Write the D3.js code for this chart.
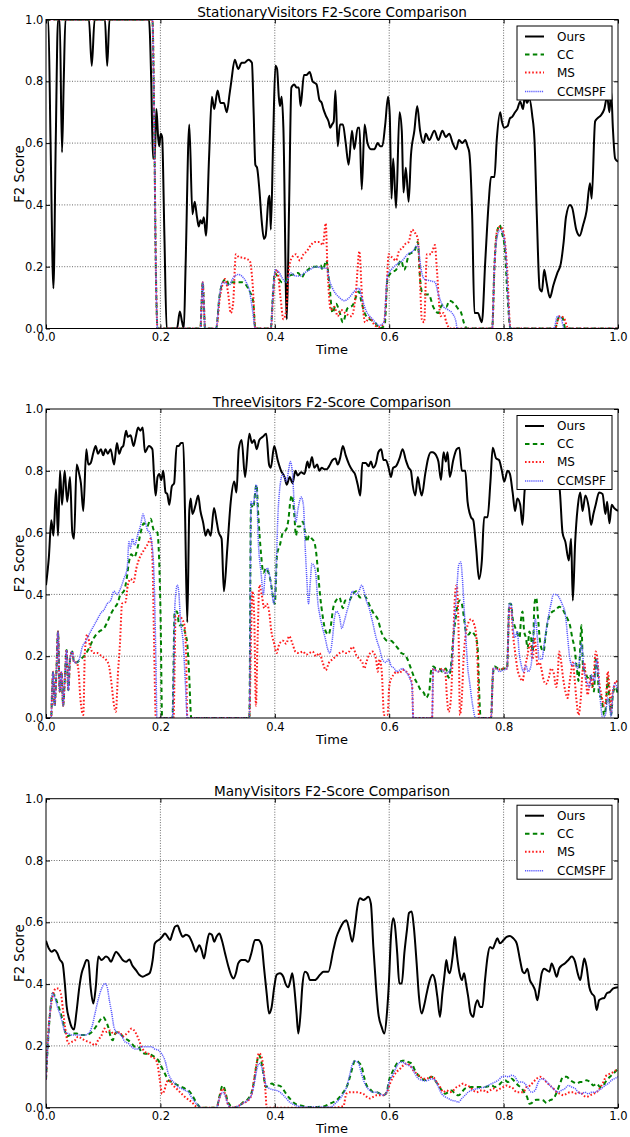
<!DOCTYPE html>
<html><head><meta charset="utf-8">
<script src="https://cdn.jsdelivr.net/npm/d3@7"></script>
<style>html,body{margin:0;padding:0;background:#fff;} svg{display:block;font-family:"DejaVu Sans",sans-serif;}</style>
</head><body><svg id="chart" width="630" height="1137"></svg>
<script>
// ---------- DATA ----------
const panelTitles = ["StationaryVisitors F2-Score Comparison","ThreeVisitors F2-Score Comparison","ManyVisitors F2-Score Comparison"];
const seriesNames = ["Ours","CC","MS","CCMSPF"];
const xTickValues = [0,0.2,0.4,0.6,0.8,1.0];
const yTickValues = [0,0.2,0.4,0.6,0.8,1.0];
const xLabel = "Time";
const yLabel = "F2 Score";

const stationaryOurs = [[0,1],[0.004,1],[0.008,0.6],[0.013,0.13],[0.017,0.6],[0.021,1],[0.024,1],[0.028,0.57],[0.031,0.8],[0.034,1],[0.075,1],[0.08,0.85],[0.085,1],[0.103,1],[0.107,0.85],[0.111,1],[0.18,1],[0.184,0.8],[0.187,0.55],[0.19,0.55],[0.193,0.71],[0.196,0.62],[0.198,0.59],[0.2005,0.63],[0.203,0.62],[0.207,0.3],[0.211,0],[0.229,0],[0.234,0.055],[0.238,0.02],[0.241,0],[0.244,0.2],[0.2505,0.66],[0.256,0.37],[0.26,0.41],[0.264,0.36],[0.267,0.33],[0.27,0.35],[0.273,0.34],[0.276,0.36],[0.2797,0.3],[0.285,0.55],[0.29,0.75],[0.294,0.71],[0.3,0.77],[0.305,0.73],[0.311,0.73],[0.316,0.7],[0.321,0.76],[0.324,0.8],[0.33,0.87],[0.336,0.84],[0.342,0.86],[0.347,0.86],[0.354,0.87],[0.36,0.86],[0.363,0.7],[0.366,0.53],[0.369,0.52],[0.373,0.45],[0.377,0.35],[0.381,0.29],[0.384,0.3],[0.389,0.42],[0.391,0.43],[0.393,0.32],[0.397,0.6],[0.401,0.85],[0.404,0.84],[0.407,0.75],[0.409,0.72],[0.412,0.75],[0.415,0.65],[0.421,0.03],[0.425,0.4],[0.429,0.78],[0.434,0.79],[0.438,0.78],[0.442,0.78],[0.445,0.72],[0.451,0.82],[0.455,0.82],[0.461,0.83],[0.466,0.8],[0.473,0.79],[0.478,0.74],[0.482,0.73],[0.485,0.71],[0.489,0.69],[0.494,0.67],[0.497,0.65],[0.5,0.66],[0.503,0.67],[0.506,0.77],[0.51,0.59],[0.514,0.66],[0.519,0.66],[0.524,0.6],[0.529,0.53],[0.535,0.64],[0.539,0.58],[0.545,0.65],[0.548,0.65],[0.552,0.45],[0.557,0.66],[0.562,0.6],[0.568,0.58],[0.574,0.58],[0.58,0.6],[0.584,0.59],[0.588,0.59],[0.593,0.66],[0.598,0.75],[0.601,0.69],[0.604,0.42],[0.607,0.55],[0.612,0.39],[0.618,0.7],[0.622,0.64],[0.625,0.44],[0.629,0.52],[0.634,0.41],[0.638,0.56],[0.644,0.64],[0.649,0.72],[0.654,0.64],[0.66,0.6],[0.664,0.63],[0.67,0.61],[0.679,0.64],[0.686,0.61],[0.693,0.64],[0.699,0.62],[0.705,0.63],[0.711,0.6],[0.717,0.58],[0.722,0.61],[0.728,0.6],[0.733,0.61],[0.737,0.59],[0.74,0.57],[0.745,0.37],[0.749,0.05],[0.755,0.05],[0.762,0.02],[0.768,0.22],[0.774,0.41],[0.778,0.49],[0.784,0.49],[0.788,0.61],[0.794,0.7],[0.797,0.67],[0.801,0.65],[0.807,0.655],[0.811,0.68],[0.815,0.685],[0.82,0.7],[0.824,0.71],[0.829,0.735],[0.834,0.71],[0.837,0.75],[0.841,0.73],[0.845,0.745],[0.85,0.69],[0.854,0.61],[0.858,0.37],[0.863,0.13],[0.867,0.12],[0.871,0.19],[0.875,0.15],[0.881,0.1],[0.887,0.14],[0.894,0.18],[0.9,0.21],[0.905,0.28],[0.909,0.36],[0.916,0.4],[0.92,0.39],[0.927,0.32],[0.933,0.3],[0.939,0.335],[0.945,0.38],[0.951,0.47],[0.954,0.42],[0.96,0.67],[0.964,0.68],[0.97,0.69],[0.976,0.71],[0.981,0.75],[0.985,0.7],[0.988,0.77],[0.991,0.65],[0.995,0.55],[1,0.54]];
const stationaryCC = [[0,1],[0.186,1],[0.189,0.7],[0.192,0.2],[0.195,0],[0.27,0],[0.272,0.08],[0.274,0.15],[0.276,0.08],[0.278,0],[0.2975,0],[0.303,0.1],[0.309,0.15],[0.315,0.16],[0.32,0.14],[0.326,0.15],[0.334,0.15],[0.342,0.15],[0.35,0.14],[0.356,0.12],[0.362,0.09],[0.366,0],[0.393,0],[0.397,0.12],[0.4,0.18],[0.406,0.165],[0.412,0.15],[0.418,0.15],[0.425,0.17],[0.433,0.175],[0.441,0.18],[0.447,0.165],[0.452,0.18],[0.458,0.19],[0.466,0.2],[0.472,0.2],[0.48,0.205],[0.484,0.19],[0.49,0.22],[0.495,0.15],[0.501,0.05],[0.507,0.08],[0.513,0.055],[0.519,0.02],[0.527,0.065],[0.536,0.075],[0.547,0.12],[0.551,0.09],[0.557,0.05],[0.566,0.03],[0.575,0.02],[0.583,0],[0.592,0.01],[0.597,0.16],[0.603,0.18],[0.612,0.19],[0.621,0.22],[0.626,0.19],[0.635,0.24],[0.644,0.25],[0.65,0.28],[0.654,0.16],[0.657,0.12],[0.664,0.11],[0.669,0.11],[0.677,0.07],[0.686,0.05],[0.692,0.075],[0.7,0.07],[0.705,0.09],[0.714,0.08],[0.72,0.065],[0.726,0.05],[0.731,0.016],[0.736,0],[0.78,0],[0.784,0.2],[0.787,0.29],[0.793,0.335],[0.797,0.31],[0.802,0.26],[0.807,0.1],[0.812,0],[0.89,0],[0.895,0.03],[0.899,0.04],[0.903,0.035],[0.908,0],[1,0]];
const stationaryMS = [[0,1],[0.186,1],[0.189,0.7],[0.192,0.2],[0.195,0],[0.27,0],[0.272,0.08],[0.274,0.15],[0.276,0.08],[0.278,0],[0.2975,0],[0.304,0.1],[0.31,0.15],[0.313,0.16],[0.318,0.12],[0.323,0.05],[0.327,0.08],[0.332,0.24],[0.338,0.23],[0.344,0.23],[0.35,0.225],[0.356,0.22],[0.361,0.15],[0.366,0],[0.393,0],[0.397,0.1],[0.4,0.17],[0.404,0.19],[0.41,0.1],[0.415,0.03],[0.42,0.06],[0.424,0.18],[0.43,0.23],[0.437,0.24],[0.444,0.22],[0.45,0.24],[0.456,0.25],[0.463,0.27],[0.47,0.28],[0.478,0.28],[0.484,0.27],[0.489,0.34],[0.492,0.2],[0.498,0.06],[0.504,0.07],[0.51,0.04],[0.516,0.06],[0.523,0.05],[0.534,0.04],[0.541,0.1],[0.548,0.25],[0.552,0.12],[0.558,0.02],[0.566,0.035],[0.575,0.01],[0.583,0.005],[0.591,0.02],[0.596,0.15],[0.599,0.24],[0.605,0.23],[0.612,0.22],[0.617,0.25],[0.623,0.26],[0.629,0.275],[0.634,0.28],[0.64,0.32],[0.645,0.31],[0.65,0.29],[0.653,0.2],[0.657,0.03],[0.661,0.02],[0.666,0.24],[0.673,0.24],[0.68,0.27],[0.683,0.2],[0.69,0.04],[0.695,0.05],[0.7,0.02],[0.706,0],[0.78,0],[0.784,0.2],[0.788,0.31],[0.794,0.33],[0.8,0.31],[0.806,0.2],[0.812,0],[0.89,0],[0.898,0.04],[0.905,0.035],[0.913,0],[1,0]];
const stationaryCCMSPF = [[0,1],[0.186,1],[0.189,0.7],[0.192,0.2],[0.195,0],[0.27,0],[0.272,0.08],[0.274,0.15],[0.276,0.08],[0.278,0],[0.2975,0],[0.303,0.1],[0.309,0.15],[0.315,0.145],[0.32,0.14],[0.326,0.16],[0.336,0.175],[0.342,0.17],[0.35,0.15],[0.356,0.12],[0.361,0.06],[0.366,0],[0.393,0],[0.397,0.12],[0.401,0.19],[0.408,0.18],[0.414,0.16],[0.42,0.15],[0.428,0.18],[0.436,0.17],[0.444,0.17],[0.452,0.18],[0.461,0.19],[0.472,0.2],[0.484,0.195],[0.491,0.195],[0.495,0.16],[0.501,0.13],[0.513,0.1],[0.522,0.09],[0.53,0.1],[0.539,0.12],[0.547,0.13],[0.552,0.1],[0.559,0.06],[0.571,0.03],[0.583,0.01],[0.591,0.02],[0.597,0.17],[0.606,0.195],[0.615,0.21],[0.623,0.22],[0.632,0.24],[0.641,0.25],[0.65,0.27],[0.655,0.2],[0.661,0.16],[0.67,0.155],[0.68,0.15],[0.686,0.11],[0.695,0.07],[0.7035,0.06],[0.71,0.05],[0.717,0.02],[0.7185,0],[0.78,0],[0.784,0.2],[0.788,0.29],[0.794,0.32],[0.8,0.3],[0.804,0.24],[0.808,0.09],[0.812,0],[0.888,0],[0.894,0.04],[0.9,0.035],[0.906,0],[1,0]];

const threeOurs = [[0,0.43],[0.005,0.52],[0.0093,0.64],[0.013,0.59],[0.0175,0.74],[0.021,0.59],[0.0245,0.8],[0.028,0.69],[0.0326,0.8],[0.037,0.7],[0.042,0.78],[0.046,0.6],[0.049,0.58],[0.0536,0.82],[0.058,0.79],[0.061,0.76],[0.0652,0.67],[0.0705,0.87],[0.074,0.82],[0.078,0.825],[0.083,0.86],[0.0868,0.88],[0.091,0.855],[0.096,0.87],[0.1,0.85],[0.104,0.87],[0.108,0.855],[0.113,0.87],[0.119,0.82],[0.124,0.89],[0.128,0.855],[0.132,0.875],[0.135,0.88],[0.14,0.93],[0.143,0.91],[0.148,0.915],[0.153,0.88],[0.157,0.91],[0.161,0.94],[0.165,0.93],[0.169,0.94],[0.173,0.86],[0.18,0.88],[0.186,0.87],[0.189,0.78],[0.1917,0.72],[0.195,0.78],[0.198,0.79],[0.2016,0.77],[0.205,0.8],[0.209,0.73],[0.212,0.725],[0.2156,0.69],[0.22,0.75],[0.224,0.76],[0.2284,0.88],[0.232,0.88],[0.236,0.89],[0.24,0.89],[0.243,0.67],[0.247,0.31],[0.2505,0.67],[0.253,0.71],[0.256,0.66],[0.2616,0.69],[0.266,0.72],[0.27,0.67],[0.275,0.63],[0.279,0.59],[0.283,0.61],[0.288,0.59],[0.2937,0.68],[0.298,0.64],[0.302,0.6],[0.307,0.58],[0.311,0.41],[0.317,0.55],[0.323,0.7],[0.329,0.765],[0.333,0.73],[0.337,0.87],[0.342,0.9],[0.348,0.78],[0.3555,0.92],[0.36,0.89],[0.364,0.9],[0.3683,0.87],[0.373,0.9],[0.379,0.91],[0.385,0.92],[0.39,0.82],[0.393,0.81],[0.399,0.88],[0.405,0.835],[0.411,0.8],[0.417,0.78],[0.421,0.755],[0.426,0.78],[0.431,0.76],[0.436,0.8],[0.44,0.785],[0.446,0.795],[0.452,0.79],[0.457,0.83],[0.46,0.81],[0.465,0.845],[0.469,0.81],[0.474,0.82],[0.478,0.8],[0.482,0.81],[0.487,0.805],[0.491,0.805],[0.495,0.815],[0.501,0.835],[0.506,0.84],[0.51,0.82],[0.514,0.84],[0.519,0.88],[0.524,0.85],[0.53,0.82],[0.536,0.8],[0.54,0.79],[0.545,0.755],[0.5495,0.72],[0.553,0.825],[0.559,0.825],[0.564,0.815],[0.568,0.83],[0.572,0.81],[0.577,0.825],[0.581,0.86],[0.586,0.87],[0.59,0.835],[0.594,0.835],[0.599,0.81],[0.603,0.78],[0.607,0.81],[0.612,0.815],[0.618,0.84],[0.6235,0.87],[0.629,0.835],[0.634,0.81],[0.638,0.8],[0.641,0.755],[0.6455,0.72],[0.65,0.78],[0.654,0.74],[0.657,0.72],[0.663,0.79],[0.668,0.84],[0.673,0.86],[0.676,0.86],[0.682,0.85],[0.686,0.83],[0.6905,0.77],[0.695,0.86],[0.699,0.83],[0.702,0.86],[0.706,0.78],[0.712,0.835],[0.718,0.87],[0.7226,0.875],[0.727,0.8],[0.733,0.8],[0.737,0.7],[0.743,0.65],[0.747,0.64],[0.752,0.55],[0.757,0.45],[0.762,0.51],[0.766,0.65],[0.772,0.65],[0.777,0.765],[0.781,0.875],[0.787,0.84],[0.792,0.835],[0.797,0.8],[0.801,0.765],[0.807,0.8],[0.811,0.79],[0.8158,0.73],[0.82,0.67],[0.824,0.71],[0.829,0.69],[0.833,0.625],[0.837,0.74],[0.843,0.78],[0.85,0.8],[0.858,0.78],[0.866,0.82],[0.875,0.79],[0.884,0.81],[0.892,0.78],[0.898,0.74],[0.903,0.6],[0.908,0.57],[0.914,0.51],[0.918,0.58],[0.921,0.38],[0.925,0.565],[0.93,0.69],[0.934,0.73],[0.938,0.67],[0.943,0.72],[0.949,0.68],[0.953,0.625],[0.957,0.66],[0.961,0.69],[0.967,0.73],[0.973,0.725],[0.978,0.66],[0.981,0.7],[0.985,0.63],[0.989,0.69],[0.993,0.68],[1,0.67]];
const threeCC = [[0,0],[0.009,0],[0.0105,0.075],[0.0125,0.15],[0.015,0.04],[0.018,0.14],[0.021,0.28],[0.024,0.086],[0.027,0.15],[0.03,0.04],[0.033,0.13],[0.036,0.22],[0.039,0.09],[0.042,0.19],[0.046,0.215],[0.049,0.18],[0.0536,0.18],[0.06,0.19],[0.0664,0.2],[0.075,0.225],[0.084,0.26],[0.093,0.28],[0.1014,0.29],[0.107,0.31],[0.113,0.335],[0.119,0.355],[0.126,0.375],[0.13,0.4],[0.136,0.41],[0.141,0.45],[0.145,0.505],[0.149,0.53],[0.154,0.52],[0.16,0.55],[0.1655,0.6],[0.171,0.63],[0.177,0.62],[0.183,0.645],[0.188,0.61],[0.1946,0.6],[0.197,0.55],[0.2005,0.31],[0.203,0],[0.221,0],[0.225,0.345],[0.229,0.345],[0.233,0.3],[0.238,0.3],[0.244,0.27],[0.247,0.24],[0.25,0.15],[0.254,0],[0.3555,0],[0.3584,0.69],[0.362,0.68],[0.368,0.755],[0.371,0.66],[0.376,0.53],[0.38,0.47],[0.385,0.485],[0.389,0.47],[0.393,0.44],[0.397,0.39],[0.4,0.37],[0.404,0.53],[0.409,0.56],[0.414,0.6],[0.42,0.61],[0.424,0.645],[0.427,0.7],[0.43,0.72],[0.434,0.66],[0.437,0.59],[0.44,0.62],[0.444,0.62],[0.449,0.635],[0.453,0.6],[0.456,0.57],[0.46,0.59],[0.465,0.58],[0.469,0.57],[0.472,0.54],[0.475,0.485],[0.479,0.4],[0.4837,0.33],[0.489,0.28],[0.494,0.27],[0.498,0.3],[0.502,0.355],[0.507,0.38],[0.513,0.39],[0.519,0.355],[0.523,0.38],[0.53,0.38],[0.536,0.4],[0.542,0.41],[0.549,0.39],[0.557,0.395],[0.562,0.38],[0.568,0.355],[0.574,0.335],[0.58,0.32],[0.586,0.28],[0.591,0.26],[0.597,0.25],[0.603,0.25],[0.609,0.24],[0.615,0.226],[0.621,0.21],[0.627,0.205],[0.632,0.19],[0.638,0.16],[0.644,0.13],[0.6497,0.11],[0.655,0.09],[0.661,0.08],[0.664,0.065],[0.67,0.086],[0.673,0.15],[0.677,0.167],[0.682,0.16],[0.687,0.16],[0.693,0.15],[0.699,0.16],[0.704,0.13],[0.708,0.17],[0.712,0.26],[0.716,0.32],[0.72,0.37],[0.7238,0.38],[0.727,0.37],[0.731,0.32],[0.734,0.28],[0.739,0.27],[0.743,0.28],[0.749,0.27],[0.752,0.26],[0.755,0.215],[0.757,0.1],[0.76,0],[0.778,0],[0.781,0.13],[0.784,0.167],[0.79,0.16],[0.795,0.156],[0.8,0.16],[0.806,0.16],[0.81,0.37],[0.813,0.37],[0.816,0.32],[0.819,0.3],[0.823,0.28],[0.828,0.26],[0.83,0.31],[0.833,0.345],[0.836,0.28],[0.839,0.26],[0.842,0.226],[0.845,0.28],[0.848,0.26],[0.851,0.215],[0.854,0.37],[0.857,0.39],[0.86,0.33],[0.863,0.26],[0.866,0.226],[0.87,0.215],[0.873,0.26],[0.877,0.31],[0.881,0.335],[0.886,0.345],[0.892,0.35],[0.897,0.36],[0.902,0.355],[0.908,0.335],[0.912,0.32],[0.916,0.3],[0.92,0.26],[0.924,0.226],[0.928,0.16],[0.931,0.12],[0.933,0.19],[0.936,0.3],[0.939,0.16],[0.943,0.15],[0.947,0.13],[0.951,0.14],[0.955,0.11],[0.958,0.086],[0.961,0.19],[0.964,0.16],[0.967,0.075],[0.971,0.065],[0.976,0.01],[0.979,0.04],[0.982,0.13],[0.985,0.06],[0.988,0.01],[0.991,0.075],[0.995,0.1],[1,0.075]];
const threeMS = [[0,0],[0.009,0],[0.0105,0.075],[0.0125,0.15],[0.015,0.04],[0.018,0.14],[0.021,0.28],[0.024,0.086],[0.027,0.15],[0.03,0.04],[0.033,0.13],[0.036,0.22],[0.039,0.09],[0.042,0.19],[0.046,0.215],[0.049,0.18],[0.0536,0.18],[0.057,0.15],[0.06,0.065],[0.0652,0.01],[0.068,0.215],[0.072,0.27],[0.078,0.225],[0.084,0.21],[0.09,0.21],[0.097,0.2],[0.1043,0.19],[0.11,0.17],[0.114,0.12],[0.119,0.04],[0.122,0.02],[0.126,0.15],[0.1293,0.24],[0.133,0.37],[0.139,0.375],[0.143,0.43],[0.148,0.45],[0.153,0.44],[0.158,0.485],[0.164,0.52],[0.17,0.54],[0.177,0.56],[0.183,0.58],[0.186,0.52],[0.1888,0.26],[0.192,0],[0.223,0],[0.2266,0.33],[0.2325,0.33],[0.238,0.32],[0.242,0.3],[0.245,0.2],[0.247,0],[0.3555,0],[0.3584,0.26],[0.361,0.41],[0.364,0.33],[0.367,0.04],[0.37,0.26],[0.373,0.43],[0.377,0.4],[0.3817,0.355],[0.386,0.37],[0.39,0.345],[0.394,0.28],[0.399,0.24],[0.403,0.21],[0.408,0.24],[0.414,0.25],[0.42,0.24],[0.425,0.265],[0.431,0.24],[0.436,0.215],[0.4418,0.21],[0.449,0.215],[0.455,0.205],[0.46,0.21],[0.466,0.215],[0.472,0.2],[0.478,0.21],[0.4837,0.18],[0.489,0.155],[0.495,0.18],[0.501,0.19],[0.507,0.2],[0.513,0.21],[0.519,0.215],[0.524,0.21],[0.53,0.215],[0.536,0.23],[0.542,0.205],[0.548,0.19],[0.553,0.18],[0.5565,0.16],[0.56,0.18],[0.565,0.205],[0.571,0.215],[0.577,0.19],[0.58,0.15],[0.583,0.19],[0.587,0.15],[0.591,0.01],[0.597,0.01],[0.6,0.1],[0.604,0.13],[0.608,0.14],[0.612,0.15],[0.618,0.145],[0.6235,0.156],[0.63,0.15],[0.6355,0.135],[0.64,0.11],[0.642,0],[0.675,0],[0.677,0.16],[0.685,0.15],[0.693,0.16],[0.698,0.15],[0.701,0.065],[0.704,0.02],[0.708,0.065],[0.712,0.26],[0.7156,0.41],[0.718,0.43],[0.721,0.31],[0.7238,0.01],[0.727,0.065],[0.73,0.19],[0.733,0.26],[0.737,0.3],[0.743,0.32],[0.749,0.3],[0.752,0.27],[0.755,0.15],[0.757,0],[0.778,0],[0.782,0.16],[0.788,0.16],[0.795,0.156],[0.8,0.16],[0.806,0.16],[0.81,0.355],[0.813,0.36],[0.816,0.28],[0.82,0.215],[0.824,0.16],[0.829,0.13],[0.833,0.12],[0.837,0.16],[0.842,0.205],[0.846,0.24],[0.851,0.19],[0.854,0.26],[0.857,0.215],[0.859,0.17],[0.863,0.18],[0.866,0.16],[0.869,0.13],[0.874,0.11],[0.879,0.13],[0.883,0.16],[0.887,0.15],[0.892,0.1],[0.895,0.15],[0.897,0.215],[0.9,0.19],[0.904,0.13],[0.908,0.086],[0.912,0.065],[0.915,0.11],[0.918,0.15],[0.921,0.18],[0.924,0.13],[0.927,0.065],[0.931,0.01],[0.935,0.065],[0.938,0.15],[0.941,0.18],[0.944,0.12],[0.947,0.075],[0.95,0.11],[0.952,0.13],[0.955,0.1],[0.958,0.15],[0.961,0.215],[0.964,0.19],[0.967,0.12],[0.971,0.075],[0.976,0.04],[0.979,0.06],[0.982,0.15],[0.985,0.1],[0.988,0.02],[0.99,0.075],[0.993,0.1],[0.996,0.12],[1,0.11]];
const threeCCMSPF = [[0,0],[0.009,0],[0.0105,0.075],[0.0125,0.15],[0.015,0.04],[0.018,0.14],[0.021,0.28],[0.024,0.086],[0.027,0.15],[0.03,0.04],[0.033,0.13],[0.036,0.22],[0.039,0.09],[0.042,0.19],[0.046,0.215],[0.049,0.18],[0.0536,0.18],[0.058,0.19],[0.0635,0.23],[0.07,0.25],[0.078,0.28],[0.084,0.3],[0.09,0.32],[0.096,0.34],[0.1014,0.35],[0.107,0.37],[0.113,0.38],[0.119,0.41],[0.124,0.4],[0.1305,0.42],[0.136,0.45],[0.142,0.485],[0.145,0.57],[0.148,0.55],[0.151,0.58],[0.155,0.56],[0.16,0.59],[0.1655,0.625],[0.1695,0.66],[0.173,0.64],[0.177,0.61],[0.181,0.6],[0.186,0.55],[0.189,0.45],[0.192,0.2],[0.194,0],[0.221,0],[0.2255,0.37],[0.2296,0.43],[0.232,0.41],[0.235,0.32],[0.24,0.24],[0.244,0.1],[0.247,0],[0.3555,0],[0.3584,0.7],[0.362,0.69],[0.368,0.755],[0.371,0.58],[0.376,0.47],[0.38,0.4],[0.383,0.46],[0.387,0.485],[0.391,0.46],[0.395,0.41],[0.398,0.37],[0.4021,0.46],[0.405,0.635],[0.408,0.73],[0.414,0.79],[0.42,0.765],[0.424,0.8],[0.427,0.83],[0.431,0.79],[0.434,0.69],[0.437,0.635],[0.44,0.67],[0.443,0.7],[0.446,0.715],[0.45,0.69],[0.453,0.56],[0.456,0.45],[0.459,0.37],[0.462,0.44],[0.465,0.5],[0.469,0.49],[0.472,0.46],[0.475,0.38],[0.479,0.33],[0.4837,0.29],[0.488,0.26],[0.492,0.226],[0.496,0.21],[0.501,0.26],[0.504,0.32],[0.508,0.345],[0.513,0.33],[0.517,0.29],[0.521,0.31],[0.526,0.345],[0.53,0.37],[0.536,0.41],[0.542,0.4],[0.547,0.41],[0.552,0.43],[0.556,0.41],[0.56,0.38],[0.565,0.355],[0.571,0.31],[0.577,0.26],[0.583,0.225],[0.588,0.19],[0.594,0.18],[0.599,0.19],[0.603,0.17],[0.609,0.16],[0.613,0.15],[0.618,0.155],[0.623,0.16],[0.629,0.15],[0.6355,0.13],[0.64,0.1],[0.642,0],[0.675,0],[0.677,0.16],[0.685,0.15],[0.693,0.155],[0.699,0.145],[0.705,0.15],[0.71,0.19],[0.714,0.31],[0.718,0.41],[0.7215,0.495],[0.725,0.505],[0.728,0.45],[0.731,0.355],[0.734,0.26],[0.737,0.17],[0.741,0.11],[0.746,0.04],[0.751,0],[0.778,0],[0.782,0.16],[0.787,0.16],[0.793,0.15],[0.799,0.155],[0.806,0.16],[0.81,0.37],[0.813,0.37],[0.816,0.3],[0.82,0.26],[0.824,0.28],[0.827,0.215],[0.831,0.17],[0.835,0.15],[0.839,0.17],[0.843,0.15],[0.848,0.17],[0.852,0.26],[0.8555,0.32],[0.859,0.26],[0.862,0.19],[0.867,0.19],[0.871,0.24],[0.875,0.29],[0.879,0.335],[0.883,0.37],[0.887,0.4],[0.892,0.4],[0.897,0.39],[0.902,0.37],[0.908,0.335],[0.912,0.26],[0.916,0.19],[0.92,0.17],[0.925,0.18],[0.929,0.16],[0.933,0.19],[0.936,0.24],[0.941,0.15],[0.945,0.12],[0.95,0.1],[0.954,0.14],[0.959,0.12],[0.963,0.19],[0.966,0.13],[0.97,0.04],[0.973,0],[0.978,0.01],[0.982,0.065],[0.985,0.04],[0.988,0.005],[0.992,0.1],[0.995,0.11],[1,0.086]];

const manyOurs = [[0,0.54],[0.005,0.515],[0.0099,0.505],[0.015,0.51],[0.0198,0.5],[0.024,0.48],[0.029,0.467],[0.033,0.4],[0.036,0.33],[0.041,0.283],[0.045,0.26],[0.0489,0.253],[0.053,0.305],[0.0583,0.39],[0.0623,0.435],[0.066,0.456],[0.071,0.478],[0.074,0.475],[0.078,0.39],[0.0827,0.337],[0.087,0.39],[0.0915,0.489],[0.097,0.478],[0.1049,0.489],[0.109,0.485],[0.1136,0.472],[0.118,0.489],[0.1224,0.505],[0.128,0.494],[0.134,0.478],[0.14,0.472],[0.1457,0.48],[0.151,0.46],[0.1573,0.445],[0.163,0.43],[0.169,0.424],[0.176,0.43],[0.181,0.435],[0.1865,0.478],[0.19,0.53],[0.1946,0.54],[0.199,0.545],[0.203,0.553],[0.208,0.564],[0.212,0.555],[0.217,0.543],[0.221,0.564],[0.2255,0.586],[0.23,0.59],[0.2343,0.57],[0.239,0.553],[0.2447,0.56],[0.25,0.555],[0.2564,0.53],[0.262,0.505],[0.268,0.526],[0.272,0.51],[0.2762,0.483],[0.281,0.53],[0.2855,0.564],[0.29,0.56],[0.2943,0.537],[0.298,0.553],[0.3031,0.564],[0.307,0.545],[0.313,0.5],[0.319,0.456],[0.3235,0.43],[0.328,0.418],[0.332,0.435],[0.336,0.467],[0.342,0.478],[0.348,0.478],[0.3537,0.472],[0.359,0.5],[0.3654,0.543],[0.371,0.543],[0.377,0.526],[0.381,0.456],[0.3858,0.37],[0.39,0.305],[0.3945,0.326],[0.399,0.39],[0.4032,0.43],[0.409,0.435],[0.4149,0.424],[0.419,0.4],[0.4237,0.39],[0.427,0.41],[0.4306,0.435],[0.434,0.39],[0.438,0.305],[0.4411,0.24],[0.445,0.305],[0.448,0.39],[0.4528,0.44],[0.457,0.435],[0.4615,0.413],[0.47,0.413],[0.479,0.43],[0.485,0.44],[0.4936,0.44],[0.5023,0.51],[0.508,0.553],[0.514,0.58],[0.5198,0.6],[0.525,0.607],[0.5303,0.575],[0.5355,0.537],[0.54,0.586],[0.5443,0.65],[0.549,0.678],[0.555,0.672],[0.56,0.678],[0.5635,0.683],[0.568,0.66],[0.5723,0.52],[0.577,0.39],[0.581,0.305],[0.587,0.26],[0.5915,0.24],[0.596,0.305],[0.5997,0.413],[0.603,0.553],[0.6072,0.613],[0.61,0.59],[0.614,0.5],[0.6177,0.402],[0.622,0.402],[0.6265,0.5],[0.631,0.575],[0.6346,0.63],[0.6393,0.635],[0.643,0.586],[0.648,0.467],[0.652,0.36],[0.6567,0.305],[0.661,0.33],[0.6655,0.37],[0.671,0.413],[0.676,0.43],[0.68,0.413],[0.6841,0.36],[0.6888,0.294],[0.693,0.37],[0.697,0.435],[0.6999,0.478],[0.703,0.445],[0.706,0.435],[0.7109,0.489],[0.715,0.553],[0.718,0.5],[0.723,0.435],[0.727,0.413],[0.731,0.435],[0.7343,0.402],[0.738,0.36],[0.7424,0.305],[0.7471,0.294],[0.75,0.326],[0.7541,0.348],[0.759,0.326],[0.763,0.326],[0.7675,0.413],[0.772,0.489],[0.7762,0.52],[0.781,0.515],[0.785,0.532],[0.789,0.548],[0.7937,0.532],[0.8,0.543],[0.8054,0.553],[0.8112,0.556],[0.817,0.548],[0.8229,0.532],[0.8287,0.478],[0.8334,0.44],[0.837,0.435],[0.8415,0.45],[0.846,0.413],[0.8508,0.397],[0.855,0.38],[0.859,0.348],[0.863,0.39],[0.8666,0.435],[0.871,0.45],[0.8753,0.445],[0.88,0.44],[0.884,0.467],[0.888,0.45],[0.8928,0.424],[0.897,0.45],[0.9015,0.46],[0.907,0.467],[0.9131,0.478],[0.919,0.489],[0.925,0.472],[0.9295,0.435],[0.934,0.413],[0.9382,0.456],[0.9411,0.483],[0.945,0.456],[0.9499,0.39],[0.954,0.37],[0.9586,0.36],[0.9627,0.316],[0.967,0.348],[0.9714,0.353],[0.976,0.355],[0.9802,0.37],[0.986,0.375],[0.9918,0.386],[1,0.39]];
const manyCC = [[0,0.09],[0.003,0.197],[0.007,0.305],[0.0117,0.37],[0.016,0.36],[0.02,0.337],[0.024,0.316],[0.029,0.283],[0.033,0.25],[0.036,0.23],[0.042,0.235],[0.0478,0.24],[0.054,0.24],[0.0594,0.235],[0.065,0.235],[0.071,0.235],[0.077,0.24],[0.0827,0.25],[0.089,0.267],[0.0944,0.283],[0.1,0.294],[0.104,0.283],[0.109,0.26],[0.113,0.23],[0.1165,0.218],[0.121,0.24],[0.1264,0.245],[0.132,0.235],[0.138,0.224],[0.144,0.218],[0.1497,0.208],[0.156,0.197],[0.1614,0.197],[0.167,0.18],[0.1731,0.175],[0.179,0.175],[0.1848,0.17],[0.19,0.164],[0.1964,0.153],[0.202,0.132],[0.208,0.11],[0.2139,0.089],[0.22,0.083],[0.2255,0.078],[0.231,0.072],[0.237,0.067],[0.243,0.062],[0.2488,0.056],[0.254,0.045],[0.2605,0.024],[0.266,0.008],[0.272,0],[0.2984,0],[0.303,0.035],[0.3089,0.072],[0.313,0.056],[0.317,0.024],[0.3217,0.008],[0.3275,0],[0.339,0.008],[0.345,0.018],[0.354,0.03],[0.3596,0.05],[0.364,0.089],[0.3683,0.143],[0.3724,0.17],[0.376,0.153],[0.38,0.11],[0.384,0.067],[0.3887,0.072],[0.395,0.078],[0.4003,0.072],[0.406,0.072],[0.412,0.067],[0.418,0.05],[0.4237,0.035],[0.429,0.024],[0.4353,0.013],[0.444,0.008],[0.4615,0.002],[0.485,0.004],[0.4965,0.013],[0.508,0.024],[0.5198,0.05],[0.5256,0.067],[0.5315,0.1],[0.536,0.132],[0.5402,0.153],[0.546,0.148],[0.5519,0.132],[0.556,0.1],[0.5606,0.072],[0.566,0.062],[0.5723,0.05],[0.578,0.05],[0.5839,0.045],[0.59,0.04],[0.5956,0.05],[0.5997,0.089],[0.6043,0.11],[0.61,0.132],[0.616,0.148],[0.622,0.151],[0.6277,0.153],[0.633,0.148],[0.6393,0.143],[0.645,0.121],[0.6509,0.105],[0.657,0.094],[0.6626,0.089],[0.668,0.094],[0.6742,0.1],[0.68,0.089],[0.6859,0.072],[0.692,0.056],[0.6976,0.045],[0.703,0.05],[0.7092,0.056],[0.715,0.045],[0.7209,0.04],[0.727,0.05],[0.7325,0.062],[0.7442,0.067],[0.7558,0.067],[0.7675,0.067],[0.7792,0.072],[0.785,0.067],[0.7908,0.072],[0.797,0.083],[0.8025,0.089],[0.808,0.083],[0.8141,0.094],[0.82,0.083],[0.8258,0.072],[0.832,0.062],[0.8374,0.045],[0.841,0.035],[0.845,0.013],[0.849,0.015],[0.8531,0.024],[0.858,0.026],[0.8636,0.026],[0.869,0.024],[0.8753,0.015],[0.881,0.024],[0.887,0.029],[0.893,0.05],[0.8986,0.078],[0.904,0.1],[0.9103,0.1],[0.916,0.089],[0.9219,0.083],[0.928,0.078],[0.9336,0.083],[0.939,0.083],[0.9452,0.089],[0.951,0.083],[0.9569,0.072],[0.963,0.078],[0.9685,0.067],[0.974,0.072],[0.9802,0.089],[0.986,0.1],[0.9918,0.11],[1,0.126]];
const manyMS = [[0,0.09],[0.003,0.218],[0.007,0.305],[0.0128,0.37],[0.0175,0.386],[0.0216,0.386],[0.026,0.37],[0.0304,0.305],[0.035,0.24],[0.039,0.208],[0.045,0.213],[0.0507,0.218],[0.056,0.23],[0.0623,0.224],[0.068,0.218],[0.074,0.213],[0.08,0.208],[0.0857,0.202],[0.091,0.218],[0.0973,0.235],[0.102,0.256],[0.1061,0.245],[0.112,0.25],[0.1177,0.24],[0.123,0.24],[0.129,0.245],[0.134,0.23],[0.138,0.235],[0.144,0.245],[0.1497,0.256],[0.156,0.245],[0.1614,0.224],[0.167,0.197],[0.1731,0.18],[0.179,0.175],[0.1848,0.164],[0.19,0.159],[0.1946,0.143],[0.199,0.089],[0.203,0.045],[0.207,0.056],[0.211,0.083],[0.215,0.089],[0.2197,0.078],[0.225,0.067],[0.2314,0.056],[0.237,0.045],[0.243,0.035],[0.249,0.026],[0.2547,0.018],[0.26,0.008],[0.2663,0],[0.2984,0],[0.303,0.03],[0.3089,0.062],[0.313,0.045],[0.3188,0.008],[0.324,0],[0.339,0.008],[0.345,0.015],[0.3537,0.024],[0.359,0.04],[0.3637,0.089],[0.3683,0.143],[0.3724,0.177],[0.377,0.164],[0.3811,0.11],[0.384,0.045],[0.3858,0],[0.5,0],[0.52,0.005],[0.525,0.045],[0.5315,0.05],[0.537,0.05],[0.5431,0.05],[0.549,0.048],[0.5548,0.045],[0.561,0.035],[0.5664,0.03],[0.572,0.035],[0.5781,0.04],[0.584,0.04],[0.5897,0.04],[0.596,0.05],[0.6014,0.078],[0.607,0.1],[0.6131,0.116],[0.619,0.126],[0.6247,0.137],[0.63,0.143],[0.6364,0.137],[0.642,0.121],[0.648,0.11],[0.654,0.1],[0.6597,0.094],[0.666,0.094],[0.6713,0.1],[0.677,0.098],[0.683,0.083],[0.689,0.067],[0.6946,0.05],[0.7,0.056],[0.7063,0.05],[0.712,0.056],[0.7179,0.067],[0.724,0.072],[0.7296,0.078],[0.735,0.072],[0.7413,0.067],[0.747,0.056],[0.7529,0.05],[0.759,0.056],[0.7646,0.056],[0.77,0.05],[0.7762,0.056],[0.782,0.062],[0.7879,0.056],[0.794,0.062],[0.7995,0.067],[0.806,0.072],[0.8112,0.067],[0.817,0.062],[0.8228,0.05],[0.829,0.05],[0.8345,0.05],[0.84,0.067],[0.8462,0.072],[0.852,0.083],[0.8578,0.094],[0.864,0.1],[0.8695,0.094],[0.875,0.083],[0.8811,0.072],[0.887,0.062],[0.8928,0.05],[0.899,0.045],[0.9044,0.04],[0.91,0.045],[0.9161,0.05],[0.922,0.05],[0.9277,0.045],[0.934,0.05],[0.9394,0.04],[0.945,0.035],[0.951,0.04],[0.957,0.045],[0.9627,0.05],[0.968,0.062],[0.9744,0.083],[0.98,0.105],[0.986,0.11],[0.992,0.116],[1,0.126]];
const manyCCMSPF = [[0,0.09],[0.003,0.197],[0.007,0.305],[0.0117,0.37],[0.016,0.354],[0.02,0.326],[0.024,0.305],[0.029,0.272],[0.033,0.245],[0.039,0.24],[0.045,0.235],[0.0507,0.235],[0.0623,0.235],[0.068,0.235],[0.074,0.24],[0.08,0.26],[0.0857,0.305],[0.091,0.348],[0.0973,0.386],[0.1032,0.402],[0.107,0.39],[0.1107,0.348],[0.115,0.305],[0.1189,0.26],[0.123,0.245],[0.1282,0.24],[0.133,0.23],[0.138,0.213],[0.144,0.208],[0.1497,0.197],[0.156,0.19],[0.1614,0.19],[0.167,0.197],[0.1731,0.197],[0.1848,0.197],[0.19,0.19],[0.1964,0.186],[0.202,0.175],[0.208,0.153],[0.2139,0.11],[0.22,0.089],[0.2255,0.078],[0.231,0.067],[0.237,0.062],[0.243,0.056],[0.2488,0.05],[0.254,0.035],[0.2605,0.018],[0.266,0.008],[0.272,0],[0.2984,0],[0.303,0.03],[0.3089,0.05],[0.313,0.04],[0.3188,0.008],[0.324,0],[0.339,0.008],[0.345,0.015],[0.3537,0.026],[0.359,0.04],[0.364,0.078],[0.3683,0.121],[0.3724,0.143],[0.377,0.132],[0.3811,0.1],[0.3858,0.067],[0.391,0.062],[0.3974,0.058],[0.403,0.056],[0.4091,0.05],[0.415,0.04],[0.4207,0.029],[0.426,0.018],[0.4324,0.011],[0.441,0.005],[0.455,0.002],[0.4965,0.002],[0.508,0.018],[0.5198,0.045],[0.5256,0.067],[0.5315,0.11],[0.536,0.143],[0.5402,0.151],[0.546,0.146],[0.55,0.121],[0.555,0.089],[0.5606,0.067],[0.566,0.056],[0.572,0.05],[0.578,0.05],[0.584,0.045],[0.5897,0.04],[0.5956,0.05],[0.5997,0.083],[0.6043,0.1],[0.61,0.121],[0.616,0.143],[0.6218,0.148],[0.628,0.143],[0.6335,0.137],[0.639,0.132],[0.645,0.11],[0.6509,0.094],[0.657,0.089],[0.663,0.087],[0.6684,0.089],[0.674,0.094],[0.6801,0.089],[0.686,0.067],[0.6917,0.045],[0.698,0.035],[0.7034,0.03],[0.709,0.024],[0.715,0.022],[0.7209,0.018],[0.727,0.03],[0.7325,0.04],[0.738,0.05],[0.7442,0.056],[0.75,0.06],[0.7558,0.062],[0.762,0.065],[0.7675,0.067],[0.773,0.072],[0.7792,0.078],[0.785,0.083],[0.7908,0.089],[0.797,0.1],[0.8025,0.102],[0.808,0.1],[0.8141,0.105],[0.82,0.1],[0.8258,0.083],[0.832,0.083],[0.8374,0.078],[0.843,0.062],[0.8491,0.05],[0.855,0.056],[0.8607,0.083],[0.866,0.094],[0.8724,0.089],[0.878,0.078],[0.884,0.067],[0.89,0.056],[0.8957,0.05],[0.901,0.056],[0.9073,0.062],[0.913,0.072],[0.919,0.067],[0.925,0.062],[0.9306,0.05],[0.936,0.045],[0.9423,0.05],[0.948,0.045],[0.9539,0.05],[0.96,0.05],[0.9656,0.056],[0.971,0.062],[0.9773,0.072],[0.983,0.078],[0.9889,0.089],[0.994,0.094],[1,0.1]];

// ---------- LAYOUT / STYLE ----------
const panelData = [
  [stationaryOurs, stationaryCC, stationaryMS, stationaryCCMSPF],
  [threeOurs, threeCC, threeMS, threeCCMSPF],
  [manyOurs, manyCC, manyMS, manyCCMSPF]
];
const seriesStyle = [
  {color:"#000000", width:2, dash:null},
  {color:"#008000", width:2, dash:"4.5,3.3"},
  {color:"#ff1a1a", width:2, dash:"1.6,2"},
  {color:"#5a5aff", width:1.5, dash:"1.2,0.9"}
];
const plotLeft = 46, plotW = 572, plotH = 309;
const panelTops = [19.5, 409, 798.7];

const svg = d3.select("#chart");
const x = d3.scaleLinear().domain([0,1]).range([0,plotW]);
const y = d3.scaleLinear().domain([0,1]).range([plotH,0]);
const fmt = d3.format(".1f");
const line = d3.line().x(d=>x(d[0])).y(d=>y(d[1])).curve(d3.curveMonotoneX);

panelData.forEach((series, i) => {
  const g = svg.append("g").attr("transform", `translate(${plotLeft},${panelTops[i]})`);
  const clipId = "clip" + i;
  g.append("clipPath").attr("id", clipId).append("rect")
    .attr("x",0).attr("y",0).attr("width",plotW).attr("height",plotH);

  // grid
  const grid = g.append("g").attr("class","grid");
  grid.selectAll("line.vx").data(xTickValues.filter(v=>v>0&&v<1)).enter().append("line")
    .attr("x1",d=>x(d)).attr("x2",d=>x(d)).attr("y1",0).attr("y2",plotH)
    .attr("stroke","#444").attr("stroke-width",0.8).attr("stroke-dasharray","1,1.6");
  grid.selectAll("line.hy").data(yTickValues.filter(v=>v>0&&v<1)).enter().append("line")
    .attr("y1",d=>y(d)).attr("y2",d=>y(d)).attr("x1",0).attr("x2",plotW)
    .attr("stroke","#444").attr("stroke-width",0.8).attr("stroke-dasharray","1,1.6");

  // series
  const lg = g.append("g").attr("clip-path", `url(#${clipId})`);
  series.forEach((data, k) => {
    const st = seriesStyle[k];
    lg.append("path").datum(data).attr("d", line)
      .attr("fill","none").attr("stroke",st.color).attr("stroke-width",st.width)
      .attr("stroke-linejoin","round")
      .attr("stroke-dasharray", st.dash);
  });

  // frame
  g.append("rect").attr("x",0).attr("y",0).attr("width",plotW).attr("height",plotH)
    .attr("fill","none").attr("stroke","#000").attr("stroke-width",1);

  // axes (inward ticks on all sides)
  const axB = g.append("g").attr("transform",`translate(0,${plotH})`)
    .call(d3.axisBottom(x).tickValues(xTickValues).tickFormat(fmt).tickSizeInner(-4).tickSizeOuter(0).tickPadding(4.5));
  const axL = g.append("g")
    .call(d3.axisLeft(y).tickValues(yTickValues).tickFormat(fmt).tickSizeInner(-4).tickSizeOuter(0).tickPadding(2.6));
  const axT = g.append("g")
    .call(d3.axisTop(x).tickValues(xTickValues).tickFormat("").tickSizeInner(-4).tickSizeOuter(0));
  const axR = g.append("g").attr("transform",`translate(${plotW},0)`)
    .call(d3.axisRight(y).tickValues(yTickValues).tickFormat("").tickSizeInner(-4).tickSizeOuter(0));
  [axB,axL,axT,axR].forEach(a=>{
    a.select(".domain").remove();
    a.selectAll("line").attr("stroke","#000").attr("stroke-width",1);
    a.selectAll("text").attr("font-family","DejaVu Sans").attr("font-size","11.5px").attr("fill","#000");
  });

  // title
  g.append("text").attr("x",plotW/2).attr("y",-2.5).attr("text-anchor","middle")
    .attr("font-size","13.6px").attr("fill","#000").text(panelTitles[i]);
  // x label
  g.append("text").attr("x",plotW/2).attr("y",plotH+25.5).attr("text-anchor","middle")
    .attr("font-size","13px").attr("fill","#000").text(xLabel);
  // y label
  g.append("text").attr("transform",`translate(${-22},${plotH/2}) rotate(-90)`)
    .attr("text-anchor","middle").attr("font-size","13.3px").attr("fill","#000").text(yLabel);

  // legend
  const legW = 95, legH = 74;
  const leg = g.append("g").attr("transform",`translate(${plotW-6-legW},6.5)`);
  leg.append("rect").attr("width",legW).attr("height",legH)
    .attr("fill","#fff").attr("stroke","#000").attr("stroke-width",1);
  seriesNames.forEach((name,k)=>{
    const yy = Math.round(10 + k*18.2) + 0.5;
    const st = seriesStyle[k];
    leg.append("line").attr("x1",8).attr("x2",27).attr("y1",yy).attr("y2",yy)
      .attr("stroke",st.color).attr("stroke-width",st.width).attr("stroke-dasharray",st.dash);
    leg.append("text").attr("x",40).attr("y",yy).attr("dy","0.36em")
      .attr("font-size","12px").attr("fill","#000").text(name);
  });
});
</script>
</body></html>
